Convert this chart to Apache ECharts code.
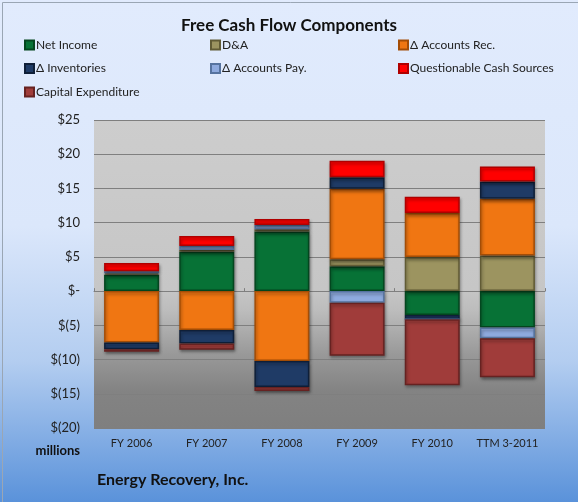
<!DOCTYPE html>
<html>
<head>
<meta charset="utf-8">
<script src="https://cdn.jsdelivr.net/npm/echarts@6/dist/echarts.min.js"></script>
<style>
html,body{margin:0;padding:0;background:#fff;}
#chart{width:578px;height:502px;}
</style>
</head>
<body>
<div id="chart"></div>
<script>
const categories = ['FY 2006','FY 2007','FY 2008','FY 2009','FY 2010','TTM 3-2011'];
const netIncome   = [2.4, 5.75, 8.7, 3.65, -3.5, -5.3];
const dna         = [0.2, 0.25, 0.35, 1.0, 5.0, 5.2];
const accountsRec = [-7.5, -5.7, -10.2, 10.3, 6.4, 8.3];
const inventories = [-1.0, -1.95, -3.8, 1.7, -0.6, 2.5];
const accountsPay = [0.3, 0.6, 0.6, -1.7, 0, -1.6];
const questionable= [1.2, 1.45, 0.9, 2.4, 2.4, 2.2];
const capex       = [-0.35, -0.9, -0.6, -7.75, -9.65, -5.7];
const yTicks = [-20,-15,-10,-5,0,5,10,15,20,25];

const FONT = 'Lato';
const seriesDefs = [
  ['Net Income', netIncome, '#077236', '#04461f'],
  ['D&A', dna, '#9c9460', '#615b35'],
  ['\u0394 Accounts Rec.', accountsRec, '#f07612', '#a44d06'],
  ['\u0394 Inventories', inventories, '#1f3b66', '#0f1f38'],
  ['\u0394 Accounts Pay.', accountsPay, '#8eaade', '#56739f'],
  ['Questionable Cash Sources', questionable, '#ff0000', '#b00000'],
  ['Capital Expenditure', capex, '#a03c3a', '#662221']
];

function fmt(v){
  if (v === 0) return '$-';
  if (v < 0) return '$(' + (-v) + ')';
  return '$' + v;
}

const chart = echarts.init(document.getElementById('chart'), null, {renderer:'canvas'});
const series = seriesDefs.map(d => ({
  name: d[0], type: 'bar', stack: 'fcf', data: d[1], barWidth: 55,
  itemStyle: {color: d[2], borderColor: d[3], borderWidth: 1.5,
    shadowColor: 'rgba(0,0,0,0.35)', shadowBlur: 3, shadowOffsetX: 1, shadowOffsetY: 2}
}));

const legendCommon = {orient:'vertical', itemWidth:9, itemHeight:9, itemGap:11.5,
  icon:'rect', textStyle:{fontFamily:FONT, fontSize:12, color:'#222', padding:[0,0,0,-3]}, padding:0};

chart.setOption({
  backgroundColor: {type:'linear', x:0, y:0, x2:0, y2:1, colorStops:[
    {offset:0, color:'#e1ebfd'}, {offset:0.45, color:'#dbe7fb'},
    {offset:0.72, color:'#b3cdf0'}, {offset:1, color:'#5a92da'}]},
  title: {text:'Free Cash Flow Components', left:'center', top:12,
    textStyle:{fontFamily:FONT, fontSize:17, fontWeight:'bold', color:'#111'}},
  legend: [
    Object.assign({left:24, top:39, data:['Net Income','\u0394 Inventories','Capital Expenditure']}, legendCommon),
    Object.assign({left:210, top:39, data:['D&A','\u0394 Accounts Pay.']}, legendCommon),
    Object.assign({left:398, top:39, data:['\u0394 Accounts Rec.','Questionable Cash Sources']}, legendCommon)
  ],
  grid: {left:94, right:33, top:120, bottom:74, show:true, borderWidth:0,
    backgroundColor:{type:'linear', x:0, y:0, x2:0, y2:1, colorStops:[
      {offset:0, color:'#cdcdcd'}, {offset:0.55, color:'#c6c6c6'},
      {offset:0.62, color:'#bcbcbc'}, {offset:0.76, color:'#999999'},
      {offset:0.88, color:'#838383'}, {offset:1, color:'#7f7f7f'}]}},
  xAxis: [{
    type:'category', data:categories, position:'bottom',
    axisLine:{show:false, onZero:false}, axisTick:{show:false},
    axisLabel:{fontFamily:FONT, fontSize:11, color:'#222', margin:10, interval:0}
  },{
    type:'category', data:categories, position:'bottom',
    axisLine:{show:true, onZero:true, lineStyle:{color:'#7f7f7f'}},
    axisTick:{show:true, inside:true, length:3, lineStyle:{color:'#7f7f7f'}},
    axisLabel:{show:false}
  }],
  yAxis: {
    type:'value', min:-20, max:25, interval:5,
    axisLine:{show:false}, axisTick:{show:false},
    splitLine:{lineStyle:{color:'#7f7f7f', width:1}},
    axisLabel:{fontFamily:FONT, fontSize:13, color:'#222', margin:14, formatter:fmt}
  },
  graphic: [
    {type:'text', right:498, top:444, style:{text:'millions', fontFamily:FONT, fontSize:13, fontWeight:'bold', fill:'#111', textAlign:'right'}},
    {type:'text', left:97, top:472, style:{text:'Energy Recovery, Inc.', fontFamily:FONT, fontSize:16, fontWeight:'bold', fill:'#111'}},
    {type:'rect', left:0, top:0, shape:{x:0.5, y:0.5, width:577, height:501}, style:{fill:'none', stroke:'#9aa6b4', lineWidth:1}, silent:true}
  ],
  series: series
});
</script>
</body>
</html>
